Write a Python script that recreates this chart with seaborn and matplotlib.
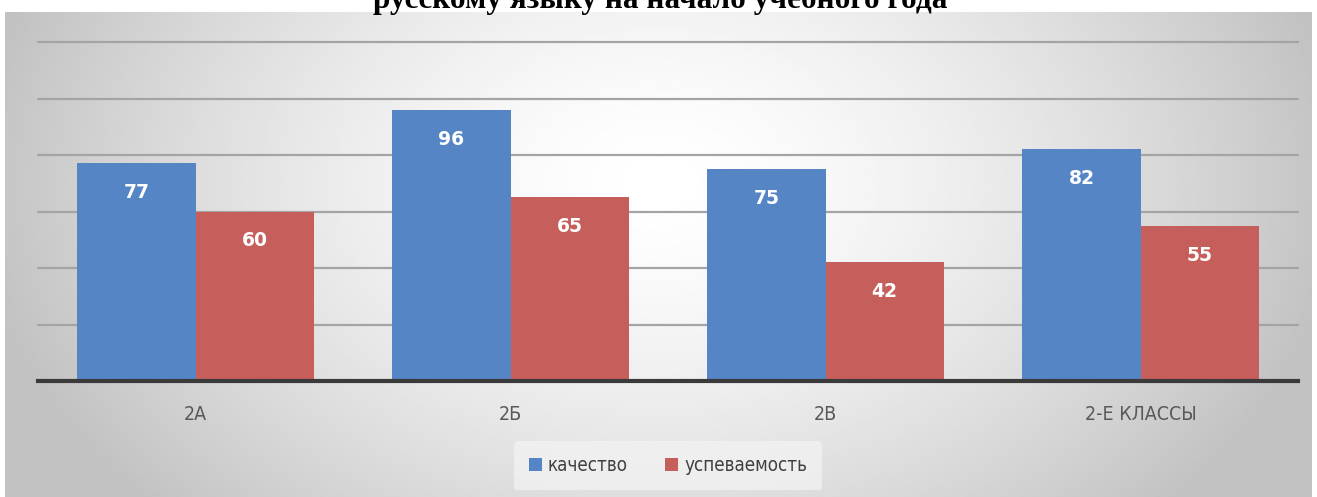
import matplotlib
matplotlib.use("Agg")
import matplotlib.pyplot as plt
import numpy as np
import pandas as pd
import seaborn as sns

# Values
classes = ["2А", "2Б", "2В", "2-Е КЛАССЫ"]
quality = [77, 96, 75, 82]        # качество
progress = [60, 65, 42, 55]       # успеваемость
series_names = ["качество", "успеваемость"]
colors = ["#5585c5", "#c65f5b"]
title = "русскому языку на начало учебного года"

sns.set_theme(style="white")
plt.rcParams["font.family"] = ["DejaVu Sans"]

df = pd.DataFrame({"cls": classes, series_names[0]: quality, series_names[1]: progress})
flat = df.melt(id_vars="cls", var_name="series", value_name="value")

W, H = 1317, 497
fig = plt.figure(figsize=(W / 100, H / 100), dpi=100)

# gray gradient panel behind the chart
bg = fig.add_axes([0, 0, 1, 1], zorder=0)
bg.set_xlim(0, W)
bg.set_ylim(H, 0)
bg.axis("off")
xx = np.linspace(-1, 1, 400)
yy = np.linspace(-1, 1, 200)
X, Y = np.meshgrid(xx, yy)
r = np.clip(np.sqrt((X * 0.95) ** 2 + ((Y + 0.3) * 0.5) ** 2), 0, 1)
grad = 1.0 - 0.24 * r ** 1.5
bg.imshow(grad, cmap="gray", vmin=0, vmax=1, extent=[5, 1312, 497, 12],
          aspect="auto", interpolation="bilinear")

# title, partly cut off at the top like the source image
fig.text(660 / W, 1 - 8 / H, title, ha="center", va="baseline",
         fontsize=22.5, fontweight="bold", family="Liberation Serif", color="black")

ax = fig.add_axes([38 / W, 1 - 381 / H, (1298 - 38) / W, (381 - 42) / H], zorder=1)
ax.patch.set_alpha(0)
sns.barplot(data=flat, x="cls", y="value", hue="series", palette=colors,
            width=0.75, saturation=1, ax=ax, legend=True)
for p in ax.patches:
    p.set_edgecolor("none")
for c in ax.containers:
    ax.bar_label(c, padding=-28, color="white", fontsize=13.5, fontweight="bold")

ax.set_ylim(0, 120)
ax.set_yticks(range(0, 121, 20))
ax.yaxis.grid(True, color="#a4a4a4", linewidth=1.6)
for gl in ax.get_ygridlines():
    gl.set_clip_on(False)
ax.set_axisbelow(True)
for s in ["top", "right", "left"]:
    ax.spines[s].set_visible(False)
ax.spines["bottom"].set_color("#3a3a3a")
ax.spines["bottom"].set_linewidth(3)
ax.spines["bottom"].set_zorder(5)
ax.tick_params(axis="y", left=False, labelleft=False)
ax.tick_params(axis="x", bottom=False, pad=11, colors="#595959")
for t in ax.get_xticklabels():
    t.set_fontstretch("condensed")
    t.set_fontsize(14)
ax.set_xlabel("")
ax.set_ylabel("")

leg = ax.legend(loc="center", bbox_to_anchor=(0.5, -0.25), ncol=2, frameon=True,
                facecolor="#f4f4f4", edgecolor="none", framealpha=0.7,
                handlelength=0.7, handleheight=0.7, handletextpad=0.3, columnspacing=2.0,
                prop={"size": 13.5, "stretch": "condensed"}, labelcolor="#404040",
                borderpad=0.8)

fig.savefig("out.png", dpi=100)
